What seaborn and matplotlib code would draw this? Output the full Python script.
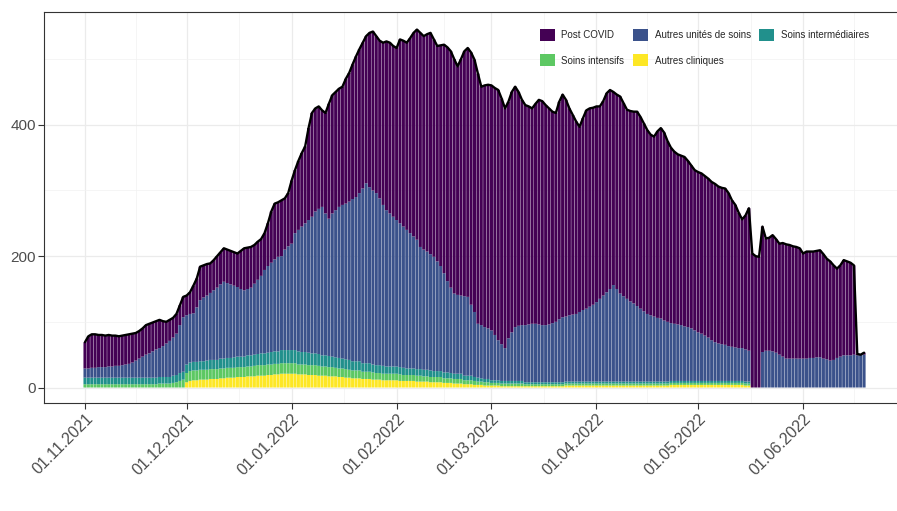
import numpy as np
import pandas as pd
import matplotlib
matplotlib.use("Agg")
import matplotlib.pyplot as plt
import matplotlib.dates as mdates
from matplotlib.patches import Patch
import seaborn as sns

# ---------------- data ----------------
start_date = "2021-11-01"

# total hospitalised patients (black line / top of stack), one value per day
total = [
    69, 78, 81, 81, 80, 80, 79, 80, 79, 79,
    78, 79, 80, 81, 82, 83, 86, 90, 95, 97,
    99, 101, 103, 101, 100, 103, 106, 112, 125, 138,
    140, 145, 155, 166, 184, 186, 188, 189, 194, 200,
    206, 212, 210, 208, 206, 204, 208, 212, 213, 214,
    217, 222, 226, 235, 250, 268, 280, 282, 285, 288,
    296, 315, 331, 345, 357, 367, 395, 418, 425, 428,
    422, 418, 432, 445, 450, 455, 458, 470, 479, 492,
    504, 515, 525, 535, 540, 542, 535, 528, 525, 527,
    525, 520, 517, 530, 528, 525, 532, 540, 545, 540,
    535, 538, 540, 530, 520, 521, 522, 518, 512, 500,
    489, 500, 512, 517, 510, 499, 478, 458, 460, 461,
    460, 456, 453, 440, 425, 435, 450, 458, 450, 438,
    430, 428, 425, 432, 438, 436, 430, 425, 420, 418,
    435, 446, 438, 425, 415, 405, 397, 410, 422, 425,
    426, 428, 428, 436, 448, 453, 450, 446, 443, 433,
    423, 421, 420, 420, 412, 402, 392, 385, 382, 390,
    395, 388, 375, 365, 359, 355, 353, 351, 345, 338,
    331, 328, 326, 322, 318, 313, 310, 306, 304, 303,
    296, 285, 278, 266, 256, 262, 273, 204, 200, 199,
    245, 227, 228, 232, 226, 219, 220, 218, 217, 215,
    214, 212, 204, 207, 207, 207, 208, 209, 203, 196,
    192, 186, 181, 186, 194, 192, 190, 186, 51, 50,
    53,
]

# upper edge of the "Autres unités de soins" layer (everything except Post COVID)
non_post_covid = [
    29, 29, 30, 30, 31, 31, 31, 32, 32, 33,
    33, 34, 35, 36, 38, 41, 44, 47, 50, 52,
    55, 58, 60, 63, 67, 71, 76, 82, 95, 107,
    110, 112, 113, 122, 133, 137, 140, 144, 148, 152,
    157, 161, 159, 157, 155, 153, 150, 148, 150, 152,
    158, 164, 170, 179, 185, 190, 195, 199, 200, 210,
    215, 219, 235, 240, 245, 250, 255, 260, 268, 272,
    275, 265, 257, 265, 270, 275, 278, 280, 283, 287,
    290, 296, 303, 311, 305, 300, 296, 288, 278, 270,
    265, 260, 255, 250, 245, 240, 235, 230, 225, 214,
    210, 207, 203, 199, 192, 185, 174, 162, 152, 143,
    141, 140, 139, 138, 126, 115, 97, 95, 92, 90,
    87, 80, 72, 66, 60, 75, 84, 92, 94, 95,
    95, 96, 97, 97, 96, 95, 95, 96, 98, 100,
    104, 107, 108, 110, 111, 112, 115, 118, 120, 123,
    126, 130, 135, 140, 145, 150, 156, 150, 143, 139,
    135, 131, 128, 124, 120, 116, 112, 110, 108, 106,
    105, 102, 100, 98, 97, 96, 95, 93, 92, 90,
    87, 84, 82, 79, 76, 72, 69, 67, 66, 65,
    63, 62, 61, 60, 60, 58, 56, 0, 0, 0,
    54, 56, 56, 55, 53, 50, 47, 44, 44, 44,
    44, 44, 44, 44, 45, 45, 46, 46, 44, 43,
    41, 42, 45, 47, 49, 49, 49, 50, 49, 50,
    50,
]

soins_intermediaires = [
    10, 10, 10, 10, 10, 10, 10, 10, 10, 10,
    10, 10, 10, 10, 10, 10, 10, 10, 10, 10,
    10, 10, 10, 10, 10, 10, 11, 11, 12, 12,
    13, 13, 13, 13, 13, 13, 14, 14, 14, 14,
    15, 15, 15, 15, 16, 16, 16, 16, 17, 17,
    17, 17, 18, 18, 18, 19, 19, 19, 20, 20,
    20, 20, 20, 20, 19, 19, 19, 18, 18, 18,
    17, 17, 17, 16, 16, 16, 15, 15, 15, 14,
    14, 14, 13, 13, 13, 12, 12, 12, 12, 11,
    11, 11, 11, 11, 11, 10, 10, 10, 10, 10,
    10, 10, 10, 9, 9, 9, 9, 9, 8, 8,
    8, 8, 7, 7, 7, 6, 6, 5, 5, 5,
    4, 4, 4, 4, 4, 4, 4, 4, 4, 4,
    3, 3, 3, 3, 3, 3, 3, 3, 3, 3,
    3, 3, 3, 3, 3, 3, 3, 3, 3, 3,
    3, 3, 3, 3, 3, 3, 3, 3, 3, 3,
    3, 3, 3, 3, 3, 3, 3, 3, 3, 3,
    3, 3, 3, 3, 3, 3, 3, 3, 3, 3,
    3, 3, 3, 3, 3, 3, 3, 3, 3, 3,
    3, 3, 3, 3, 3, 3, 3, 0, 0, 0,
    0, 0, 0, 0, 0, 0, 0, 0, 0, 0,
    0, 0, 0, 0, 0, 0, 0, 0, 0, 0,
    0, 0, 0, 0, 0, 0, 0, 0, 0, 0,
    0,
]

soins_intensifs = [
    5, 5, 5, 5, 5, 5, 5, 5, 5, 5,
    5, 5, 5, 5, 5, 5, 5, 5, 5, 5,
    5, 5, 6, 6, 6, 6, 7, 8, 10, 12,
    14, 15, 15, 15, 15, 15, 15, 15, 15, 15,
    15, 15, 15, 15, 15, 15, 15, 15, 15, 15,
    16, 16, 16, 16, 16, 16, 16, 16, 16, 16,
    16, 16, 16, 15, 15, 15, 15, 15, 15, 15,
    14, 14, 14, 14, 13, 13, 13, 13, 12, 12,
    12, 12, 11, 11, 11, 11, 10, 10, 10, 10,
    10, 10, 10, 10, 9, 9, 9, 9, 9, 9,
    8, 8, 8, 8, 8, 8, 7, 7, 7, 7,
    7, 7, 6, 6, 6, 6, 5, 5, 5, 5,
    4, 4, 4, 4, 4, 4, 4, 4, 4, 4,
    3, 3, 3, 3, 3, 3, 3, 3, 3, 3,
    3, 3, 3, 3, 3, 3, 3, 3, 3, 3,
    3, 3, 3, 3, 3, 3, 3, 3, 3, 3,
    3, 3, 3, 3, 3, 3, 3, 3, 3, 3,
    3, 3, 3, 3, 3, 3, 3, 3, 3, 3,
    3, 3, 3, 3, 3, 3, 3, 3, 3, 3,
    3, 3, 3, 3, 3, 3, 3, 0, 0, 0,
    0, 0, 0, 0, 0, 0, 0, 0, 0, 0,
    0, 0, 0, 0, 0, 0, 0, 0, 0, 0,
    0, 0, 0, 0, 0, 0, 0, 0, 0, 0,
    0,
]

autres_cliniques = [
    0, 0, 0, 0, 0, 0, 0, 0, 0, 0,
    0, 0, 0, 0, 0, 0, 0, 0, 0, 0,
    0, 0, 0, 0, 0, 0, 0, 0, 0, 0,
    8, 10, 11, 11, 12, 12, 12, 13, 13, 13,
    14, 14, 15, 15, 15, 16, 16, 16, 17, 17,
    17, 18, 18, 18, 19, 19, 20, 20, 21, 21,
    21, 21, 21, 20, 20, 20, 19, 19, 19, 18,
    18, 18, 17, 17, 17, 16, 16, 15, 15, 14,
    14, 14, 13, 13, 13, 12, 12, 12, 11, 11,
    11, 11, 11, 10, 10, 10, 10, 10, 9, 9,
    9, 9, 8, 8, 8, 8, 7, 7, 7, 6,
    6, 6, 5, 5, 5, 4, 4, 4, 3, 3,
    3, 3, 3, 2, 2, 2, 2, 2, 2, 2,
    2, 2, 2, 2, 2, 2, 2, 2, 2, 2,
    2, 2, 3, 3, 3, 3, 3, 3, 3, 3,
    3, 3, 3, 3, 3, 3, 3, 3, 3, 3,
    3, 3, 3, 3, 3, 3, 3, 3, 3, 3,
    3, 3, 3, 4, 4, 4, 4, 4, 4, 4,
    4, 4, 4, 4, 4, 4, 4, 4, 4, 4,
    4, 4, 4, 4, 4, 3, 3, 0, 0, 0,
    0, 0, 0, 0, 0, 0, 0, 0, 0, 0,
    0, 0, 0, 0, 0, 0, 0, 0, 0, 0,
    0, 0, 0, 0, 0, 0, 0, 0, 0, 0,
    0,
]

categories = ["Post COVID", "Autres unités de soins", "Soins intermédiaires",
              "Soins intensifs", "Autres cliniques"]
colors = ["#440154", "#3B528B", "#21908C", "#5DC863", "#FDE725"]
y_ticks = [0, 200, 400]
x_tick_dates = ["2021-11-01", "2021-12-01", "2022-01-01", "2022-02-01",
                "2022-03-01", "2022-04-01", "2022-05-01", "2022-06-01"]
x_tick_labels = ["01.11.2021", "01.12.2021", "01.01.2022", "01.02.2022",
                 "01.03.2022", "01.04.2022", "01.05.2022", "01.06.2022"]

# ---------------- derived layers ----------------
tot = np.array(total, dtype=float)
top_blue = np.array(non_post_covid, dtype=float)
inter = np.array(soins_intermediaires, dtype=float)
intens = np.array(soins_intensifs, dtype=float)
autres_cl = np.array(autres_cliniques, dtype=float)
autres_unites = top_blue - inter - intens - autres_cl
post_covid = tot - top_blue

dates = pd.date_range(start_date, periods=len(total), freq="D")
xnum = mdates.date2num(dates)

# ---------------- figure ----------------
sns.set_theme(style="whitegrid")
plt.rcParams['font.family'] = ['Liberation Sans', 'DejaVu Sans']

fig = plt.figure(figsize=(8.97, 5.11), dpi=100)
ax = fig.add_axes([44 / 897, 108 / 511, 858 / 897, 390.5 / 511])
ax.set_facecolor("white")

layers = [
    (autres_cl, colors[4]),
    (intens, colors[3]),
    (inter, colors[2]),
    (autres_unites, colors[1]),
    (post_covid, colors[0]),
]
bottom = np.zeros_like(tot)
for vals, col in layers:
    bars = ax.bar(xnum, vals, bottom=bottom, width=0.9, color=col, linewidth=0, zorder=2)
    for b in bars:
        b.set_snap(False)
    bottom = bottom + vals

sns.lineplot(x=xnum, y=tot, color="black", linewidth=1.7, ax=ax, zorder=3)

ax.set_yticks(y_ticks)
ax.set_yticklabels([str(v) for v in y_ticks])
ax.set_yticks([100, 300, 500], minor=True)
tick_pos = mdates.date2num(pd.to_datetime(x_tick_dates))
ax.set_xticks(tick_pos)
ax.set_xticklabels(x_tick_labels, rotation=45, ha="right", rotation_mode="anchor")
minor_x = (tick_pos[:-1] + tick_pos[1:]) / 2
ax.set_xticks(list(minor_x) + [tick_pos[-1] + 15], minor=True)

# axes limits (ggplot-like expansion) -- set after ticks so they are not expanded
x0 = mdates.date2num(pd.Timestamp(start_date))
ax.set_xlim(x0 - 12.1, x0 + 241.2)
ax.set_ylim(-23.6, 571)

ax.grid(True, which="major", color="#ebebeb", linewidth=0.9, zorder=0)
ax.grid(True, which="minor", color="#f2f2f2", linewidth=0.5, zorder=0)
ax.set_axisbelow(True)

for s in ax.spines.values():
    s.set_color("#333333")
    s.set_linewidth(0.8)
    s.set_visible(True)

ax.tick_params(axis="x", which="major", length=4, width=0.8, color="#333333",
               labelcolor="#4d4d4d", labelsize=11.5, pad=2, bottom=True)
ax.tick_params(axis="y", which="major", length=4, width=0.8, color="#333333",
               labelcolor="#4d4d4d", labelsize=11, pad=2, left=True)
ax.tick_params(axis="both", which="minor", length=0)
ax.set_xlabel("")
ax.set_ylabel("")

# legend (row-wise order in 3 columns)
handles = [Patch(facecolor=c, edgecolor="none") for c in colors]
order = [0, 3, 1, 4, 2]
leg = fig.legend([handles[i] for i in order], [categories[i] for i in order],
                 ncol=3, loc="upper left", bbox_to_anchor=(540 / 897, 1 - 29 / 511),
                 frameon=False, fontsize=7, handlelength=1.5, handleheight=1.5,
                 handletextpad=0.7, columnspacing=0.9, labelspacing=1.4,
                 borderpad=0, borderaxespad=0)

fig.savefig("out.png", dpi=100)
